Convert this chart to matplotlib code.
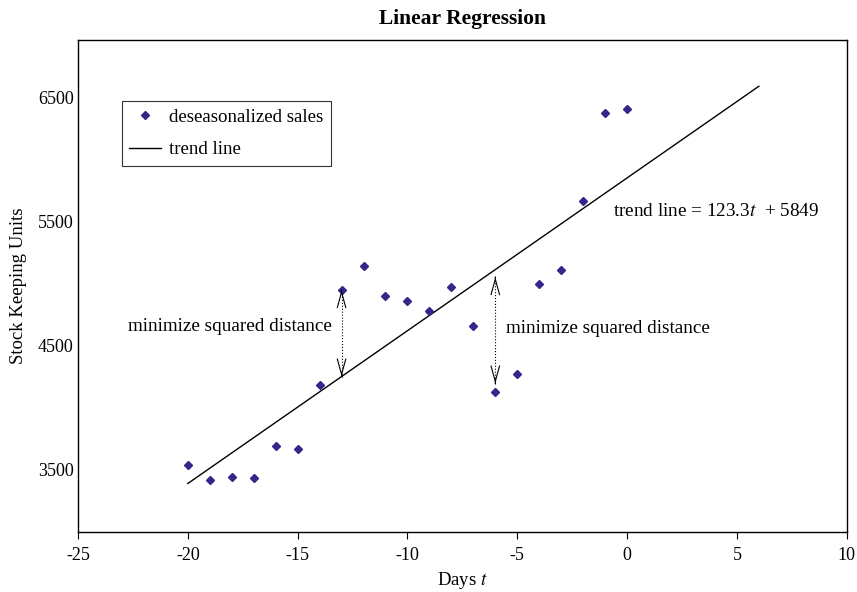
import numpy as np
import matplotlib
matplotlib.use('Agg')
import matplotlib.pyplot as plt

plt.rcParams['font.family'] = ['Liberation Serif', 'DejaVu Serif']
plt.rcParams['mathtext.fontset'] = 'stix'
plt.rcParams['axes.unicode_minus'] = False

# ---------------------------------------------------------------------------
# Data
# ---------------------------------------------------------------------------
days = [-20, -19, -18, -17, -16, -15, -14, -13, -12, -11,
        -10, -9, -8, -7, -6, -5, -4, -3, -2, -1, 0]
sales = [3532, 3411, 3435, 3427, 3685, 3661, 4177, 4944, 5137, 4895,
         4855, 4774, 4968, 4653, 4121, 4266, 4992, 5105, 5661, 6371, 6403]

slope = 123.3
intercept = 5849
trend_t = [-20, 6]

MARKER_CLR = '#35278a'

fig = plt.figure(figsize=(8.57, 5.92), dpi=100)
ax = fig.add_axes([0.091, 0.101, 0.897, 0.831])

ax.plot(days, sales, 'D', ms=3.6, color=MARKER_CLR, label='deseasonalized sales',
        zorder=3)
trend_y = [slope * t + intercept for t in trend_t]
ax.plot(trend_t, trend_y, '-', color='black', lw=1.0, label='trend line')

# distance arrows: dotted shaft, solid open heads at both ends
for t, lo, hi in [(-13, slope * -13 + intercept, 4944),
                  (-6, 4190, slope * -6 + intercept - 60)]:
    ax.vlines(t, lo, hi, colors='black', linestyles=':', lw=0.8)
    for tip, tail in [(hi, hi - 1), (lo, lo + 1)]:
        ax.annotate('', xy=(t, tip), xytext=(t, tail),
                    arrowprops=dict(arrowstyle='->,head_length=0.8,head_width=0.22',
                                    lw=0.8, color='black',
                                    shrinkA=0, shrinkB=0, mutation_scale=14))

ax.text(-18.1, 4650, 'minimize squared distance', fontsize=13.8,
        ha='center', va='center')
ax.text(-5.5, 4630, 'minimize squared distance', fontsize=13.8,
        ha='left', va='center')
ax.text(-0.65, 5575, r'trend line = 123.3$t$  + 5849', fontsize=13.8,
        ha='left', va='center')

ax.set_xlim(-25, 10)
ax.set_ylim(2990, 6960)
ax.set_xticks([-25, -20, -15, -10, -5, 0, 5, 10])
ax.set_yticks([3500, 4500, 5500, 6500])
ax.tick_params(axis='x', direction='out', length=5, labelsize=13, pad=6)
ax.tick_params(axis='y', length=0, labelsize=13, pad=3)
for s in ax.spines.values():
    s.set_linewidth(1.0)

ax.set_xlabel(r'Days $t$', fontsize=13.5, labelpad=4)
ax.set_ylabel('Stock Keeping Units', fontsize=13.5, labelpad=8)
ax.set_title('Linear Regression', fontsize=15.5, fontweight='bold', pad=12)

leg = ax.legend(loc='upper left', bbox_to_anchor=(0.057, 0.876), fontsize=13.6,
                frameon=True, fancybox=False, edgecolor='black',
                borderaxespad=0, handlelength=1.7, handletextpad=0.4,
                borderpad=0.4, labelspacing=0.8)
leg.get_frame().set_linewidth(0.8)

fig.savefig('out.png', dpi=100)
